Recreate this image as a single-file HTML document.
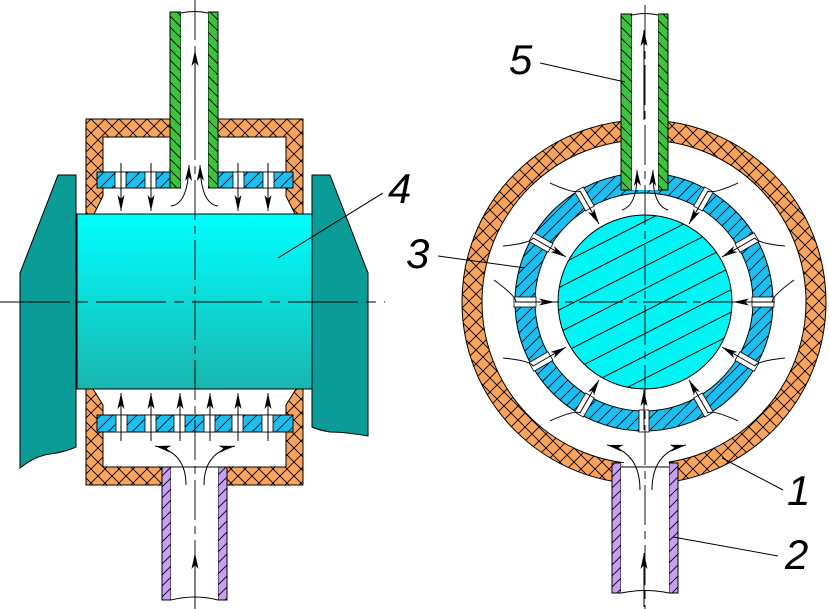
<!DOCTYPE html>
<html><head><meta charset="utf-8"><style>
html,body{margin:0;padding:0;background:#fff;}
svg{display:block;}
text{font-family:"Liberation Sans",sans-serif;font-style:italic;font-size:42px;fill:#000;}
</style></head><body>
<svg width="829" height="609" viewBox="0 0 829 609" xmlns="http://www.w3.org/2000/svg">
<defs>
<pattern id="or" patternUnits="userSpaceOnUse" width="14" height="14">
<rect width="14" height="14" fill="#f9a45c"/>
<path d="M0,0L14,14M14,0L0,14" stroke="#000" stroke-width="0.9"/>
</pattern>
<pattern id="gr" patternUnits="userSpaceOnUse" width="11" height="11">
<rect width="11" height="11" fill="#3cc43c"/>
<path d="M0,0L11,11M-1,10L1,12M10,-1L12,1" stroke="#000" stroke-width="0.9"/>
</pattern>
<pattern id="pu" patternUnits="userSpaceOnUse" width="11" height="11">
<rect width="11" height="11" fill="#c8a0f2"/>
<path d="M0,11L11,0M-1,1L1,-1M10,12L12,10" stroke="#000" stroke-width="0.9"/>
</pattern>
<pattern id="bl" patternUnits="userSpaceOnUse" width="12" height="12">
<rect width="12" height="12" fill="#1dbff0"/>
<path d="M0,12L12,0M-1,1L1,-1M11,13L13,11" stroke="#000" stroke-width="0.9"/>
</pattern>
<pattern id="cy" patternUnits="userSpaceOnUse" width="20" height="20" patternTransform="rotate(-27)">
<rect width="20" height="20" fill="#00f5f5"/>
<path d="M0,10L20,10" stroke="#000" stroke-width="1"/>
</pattern>
<linearGradient id="cg" x1="0" y1="0" x2="0" y2="1">
<stop offset="0" stop-color="#00ffff"/><stop offset="1" stop-color="#1ab6ae"/>
</linearGradient>
<marker id="ah" viewBox="0 0 16 7" refX="16" refY="3.5" markerWidth="16" markerHeight="7" orient="auto" markerUnits="userSpaceOnUse">
<path d="M0,0L16,3.5L0,7L4,3.5Z" fill="#000"/>
</marker>
</defs>

<!-- ========== LEFT VIEW ========== -->
<path d="M20,273L58,175L76,175L76,447Q65,452 50,454Q35,456 20,468Z" fill="#0c9c98" stroke="#000" stroke-width="1"/>
<path d="M312,175L330,175L368,273L368,436Q345,432 330,432Q318,430 312,427Z" fill="#0c9c98" stroke="#000" stroke-width="1"/>

<rect x="86" y="119" width="217" height="95" fill="url(#or)" stroke="#000"/>
<path d="M103,137L286,137L286,196L295,214L94,214L103,196Z" fill="#fff" stroke="#000"/>
<rect x="170" y="12" width="11" height="176" fill="url(#gr)" stroke="#000"/>
<rect x="208" y="12" width="10" height="176" fill="url(#gr)" stroke="#000"/>
<rect x="181" y="10" width="27" height="178" fill="#fff"/>
<path d="M181,13Q195,10 208,13" fill="none" stroke="#000"/>
<rect x="97" y="172" width="73" height="16" fill="url(#bl)" stroke="#000"/>
<rect x="218" y="172" width="75" height="16" fill="url(#bl)" stroke="#000"/>
<g fill="#fff" stroke="#000" stroke-width="0.8">
<rect x="115" y="172" width="11" height="16"/><rect x="145" y="172" width="11" height="16"/>
<rect x="233" y="172" width="11" height="16"/><rect x="263" y="172" width="11" height="16"/>
</g>
<g stroke="#000" stroke-width="1" fill="none" marker-end="url(#ah)">
<line x1="121" y1="163" x2="121" y2="211"/><line x1="151" y1="163" x2="151" y2="211"/>
<line x1="238" y1="163" x2="238" y2="211"/><line x1="268" y1="163" x2="268" y2="211"/>
<path d="M171,206Q188,204 189,165"/><path d="M218,206Q201,204 200,165"/>
<line x1="195" y1="120" x2="195" y2="50"/>
</g>

<rect x="77" y="214" width="235" height="175" fill="url(#cg)" stroke="#000"/>

<rect x="86" y="389" width="217" height="96" fill="url(#or)" stroke="#000"/>
<path d="M93,389L296,389L286,405L286,467L103,467L103,405Z" fill="#fff" stroke="#000"/>
<rect x="162" y="467" width="9" height="133" fill="url(#pu)" stroke="#000"/>
<rect x="218" y="467" width="9" height="133" fill="url(#pu)" stroke="#000"/>
<rect x="171" y="467" width="47" height="134" fill="#fff"/>
<path d="M171,600Q195,594 218,600" fill="none" stroke="#000"/>
<line x1="171" y1="467" x2="218" y2="467" stroke="#000"/>
<rect x="97" y="415" width="196" height="17" fill="url(#bl)" stroke="#000"/>
<g fill="#fff" stroke="#000" stroke-width="0.8">
<rect x="116" y="415" width="11" height="17"/><rect x="145" y="415" width="11" height="17"/>
<rect x="174" y="415" width="11" height="17"/><rect x="204" y="415" width="11" height="17"/>
<rect x="232" y="415" width="11" height="17"/><rect x="262" y="415" width="11" height="17"/>
</g>
<g stroke="#000" stroke-width="1" fill="none" marker-end="url(#ah)">
<line x1="121" y1="441" x2="121" y2="393"/><line x1="151" y1="441" x2="151" y2="393"/>
<line x1="180" y1="441" x2="180" y2="393"/><line x1="210" y1="441" x2="210" y2="393"/>
<line x1="238" y1="441" x2="238" y2="393"/><line x1="268" y1="441" x2="268" y2="393"/>
<path d="M186,485Q186,452 155,446"/><path d="M204,485Q204,452 235,446"/>
<line x1="195" y1="607" x2="195" y2="553"/>
</g>
<line x1="0" y1="302" x2="385" y2="302" stroke="#000" stroke-dasharray="70,8,10,8"/>
<line x1="195" y1="0" x2="195" y2="609" stroke="#000" stroke-width="0.9" stroke-dasharray="40,6,8,6"/>

<!-- ========== RIGHT VIEW ========== -->
<circle cx="644" cy="302" r="172" fill="none" stroke="#000" stroke-width="21"/>
<circle cx="644" cy="302" r="172" fill="none" stroke="url(#or)" stroke-width="19"/>
<circle cx="644" cy="302" r="119" fill="none" stroke="#000" stroke-width="21"/>
<circle cx="644" cy="302" r="119" fill="none" stroke="url(#bl)" stroke-width="19"/>
<g fill="#fff" stroke="#000" stroke-width="0.8">
<rect x="108" y="-5" width="22" height="10" transform="translate(644,302) rotate(0)"/>
<rect x="108" y="-5" width="22" height="10" transform="translate(644,302) rotate(30)"/>
<rect x="108" y="-5" width="22" height="10" transform="translate(644,302) rotate(60)"/>
<rect x="108" y="-5" width="22" height="10" transform="translate(644,302) rotate(90)"/>
<rect x="108" y="-5" width="22" height="10" transform="translate(644,302) rotate(120)"/>
<rect x="108" y="-5" width="22" height="10" transform="translate(644,302) rotate(150)"/>
<rect x="108" y="-5" width="22" height="10" transform="translate(644,302) rotate(180)"/>
<rect x="108" y="-5" width="22" height="10" transform="translate(644,302) rotate(210)"/>
<rect x="108" y="-5" width="22" height="10" transform="translate(644,302) rotate(240)"/>
<rect x="108" y="-5" width="22" height="10" transform="translate(644,302) rotate(300)"/>
<rect x="108" y="-5" width="22" height="10" transform="translate(644,302) rotate(330)"/>
</g>
<circle cx="645" cy="302" r="87" fill="url(#cy)" stroke="#000"/>
<rect x="621" y="14" width="11" height="176" fill="url(#gr)" stroke="#000"/>
<rect x="658" y="14" width="10" height="176" fill="url(#gr)" stroke="#000"/>
<rect x="632" y="12" width="26" height="178" fill="#fff"/>
<path d="M632,15Q645,12 658,15" fill="none" stroke="#000"/>
<rect x="624" y="440" width="45" height="169" fill="#fff"/>
<rect x="612" y="463" width="9" height="130" fill="url(#pu)" stroke="#000"/>
<rect x="669" y="463" width="9" height="130" fill="url(#pu)" stroke="#000"/>
<rect x="621" y="463" width="48" height="131" fill="#fff"/>
<line x1="621" y1="467" x2="669" y2="467" stroke="#000"/>
<path d="M621,593Q645,588 669,593" fill="none" stroke="#000"/>
<g stroke="#000" stroke-width="1" fill="none" marker-end="url(#ah)">
<g transform="translate(644,302)">
<g transform="rotate(0)"><path d="M150,-22Q128,-6 128,0L89,0"/></g>
<g transform="rotate(30)"><path d="M150,-22Q128,-6 128,0L90,0"/></g>
<g transform="rotate(60)"><path d="M150,-22Q128,-6 128,0L90,0"/></g>
<g transform="rotate(120)"><path d="M150,22Q128,6 128,0L90,0"/></g>
<g transform="rotate(150)"><path d="M150,22Q128,6 128,0L90,0"/></g>
<g transform="rotate(180)"><path d="M150,22Q128,6 128,0L89,0"/></g>
<g transform="rotate(210)"><path d="M150,-22Q128,-6 128,0L90,0"/></g>
<g transform="rotate(240)"><path d="M150,-22Q128,-6 128,0L90,0"/></g>
<g transform="rotate(300)"><path d="M150,22Q128,6 128,0L90,0"/></g>
<g transform="rotate(330)"><path d="M150,22Q128,6 128,0L90,0"/></g>
</g>
<path d="M640,490Q640,452 607,445"/><path d="M652,490Q652,452 686,445"/>
<line x1="644" y1="430" x2="644" y2="390"/>
<path d="M622,210Q638,205 637,170"/><path d="M668,210Q652,205 653,170"/>
<line x1="644" y1="120" x2="644" y2="30"/>
<line x1="644" y1="607" x2="644" y2="553"/>
</g>
<line x1="515" y1="302" x2="775" y2="302" stroke="#000" stroke-dasharray="44,6,8,6"/>
<line x1="645" y1="5" x2="645" y2="609" stroke="#000" stroke-width="0.9" stroke-dasharray="40,6,8,6"/>

<g stroke="#000" stroke-width="1">
<line x1="383" y1="193" x2="278" y2="258"/>
<line x1="438" y1="256" x2="525" y2="268"/>
<line x1="540" y1="63" x2="625" y2="82"/>
<line x1="783" y1="490" x2="722" y2="458"/>
<line x1="778" y1="556" x2="673" y2="537"/>
</g>
<text x="388" y="203">4</text>
<text x="406" y="268">3</text>
<text x="509" y="74">5</text>
<text x="787" y="505">1</text>
<text x="785" y="569">2</text>
</svg>
</body></html>
